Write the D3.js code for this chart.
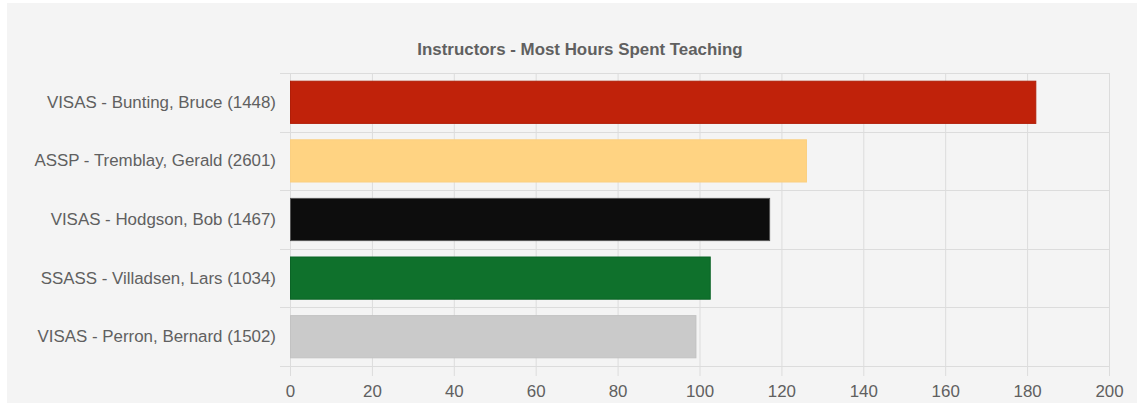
<!DOCTYPE html>
<html>
<head>
<meta charset="utf-8">
<script src="https://cdn.jsdelivr.net/npm/d3@7"></script>
<style>
  body { margin: 0; background: #fff; }
  #chart { position: absolute; left: 7px; top: 3px; }
  .tick text { font-family: 'Liberation Sans', Arial, sans-serif; fill: #606060; }
</style>
</head>
<body>
<div id="chart"></div>
<script>
const instructors = [
  'VISAS - Bunting, Bruce (1448)',
  'ASSP - Tremblay, Gerald (2601)',
  'VISAS - Hodgson, Bob (1467)',
  'SSASS - Villadsen, Lars (1034)',
  'VISAS - Perron, Bernard (1502)'
]
const hours = [182, 126, 117, 102.5, 99]
const barColors = ['#c0220a', '#ffd382', '#0d0d0d', '#0f712c', '#cacaca']
const borderColors = ['#b01e08', '#fbcf80', '#555555', '#0b6426', '#c2c2c2']
const xTicks = [0, 20, 40, 60, 80, 100, 120, 140, 160, 180, 200]

const fullWidth = 1130
const fullHeight = 400
const margin = { top: 70, left: 283, right: 28, bottom: 37 }
const width = fullWidth - margin.left - margin.right
const height = fullHeight - margin.top - margin.bottom

const root = d3
  .select('#chart')
  .append('svg')
  .attr('width', fullWidth)
  .attr('height', fullHeight)

root
  .append('rect')
  .attr('width', fullWidth)
  .attr('height', fullHeight)
  .attr('fill', '#f4f4f4')

root
  .append('text')
  .attr('x', 573)
  .attr('y', 52)
  .attr('text-anchor', 'middle')
  .attr('font-family', 'Liberation Sans, Arial, sans-serif')
  .attr('font-size', 16.9)
  .attr('font-weight', 700)
  .attr('fill', '#606060')
  .text('Instructors - Most Hours Spent Teaching')

const svg = root
  .append('g')
  .attr('transform', 'translate(' + margin.left + ',' + margin.top + ')')

const xPositionScale = d3
  .scaleLinear()
  .domain([0, 200])
  .range([0, width])

const yPositionScale = d3
  .scaleBand()
  .domain(instructors)
  .range([0, height])
  .paddingInner(0.28)
  .paddingOuter(0.14)

const yGrid = d3
  .scaleBand()
  .domain(instructors)
  .range([0, height])

// grid lines
svg
  .append('g')
  .selectAll('line')
  .data(xTicks)
  .enter()
  .append('line')
  .attr('x1', d => xPositionScale(d) + 0.5)
  .attr('x2', d => xPositionScale(d) + 0.5)
  .attr('y1', 0)
  .attr('y2', height + 10)
  .attr('stroke', '#dcdcdc')

svg
  .append('g')
  .selectAll('line')
  .data(instructors.map(d => yGrid(d)).concat([height]))
  .enter()
  .append('line')
  .attr('x1', -10)
  .attr('x2', width)
  .attr('y1', d => Math.round(d) + 0.5)
  .attr('y2', d => Math.round(d) + 0.5)
  .attr('stroke', '#dcdcdc')

svg
  .selectAll('.bar')
  .data(hours)
  .enter()
  .append('rect')
  .attr('class', 'bar')
  .attr('x', 0.5)
  .attr('y', (d, i) => yPositionScale(instructors[i]))
  .attr('width', d => xPositionScale(d))
  .attr('height', yPositionScale.bandwidth())
  .attr('fill', (d, i) => barColors[i])
  .attr('stroke', (d, i) => borderColors[i])
  .attr('stroke-width', 1)

const yAxis = d3.axisLeft(yGrid).tickSize(0)
svg
  .append('g')
  .attr('class', 'axis y-axis')
  .call(yAxis)
  .call(g => g.select('.domain').remove())
  .call(g => g.selectAll('.tick text').attr('x', -14).attr('font-size', 16.9))

const xAxis = d3
  .axisBottom(xPositionScale)
  .tickValues(xTicks)
  .tickSize(0)
svg
  .append('g')
  .attr('class', 'axis x-axis')
  .attr('transform', 'translate(0,' + height + ')')
  .call(xAxis)
  .call(g => g.select('.domain').remove())
  .call(g => g.selectAll('.tick text').attr('y', 19).attr('font-size', 16.9))
</script>
</body>
</html>
